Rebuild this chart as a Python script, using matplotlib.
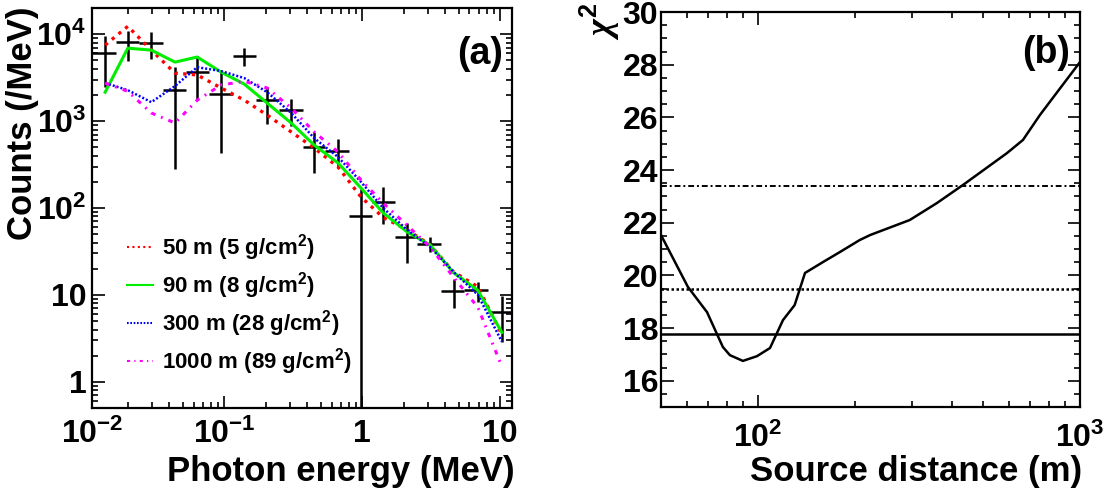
import matplotlib
matplotlib.use("Agg")
import matplotlib.pyplot as plt
import numpy as np
from matplotlib.ticker import FixedLocator, NullFormatter, FixedFormatter

plt.rcParams['font.family'] = ['Liberation Sans', 'DejaVu Sans']
plt.rcParams['font.weight'] = 'bold'
plt.rcParams['mathtext.fontset'] = 'custom'
plt.rcParams['mathtext.rm'] = 'Liberation Sans:bold'
plt.rcParams['mathtext.bf'] = 'Liberation Sans:bold'
plt.rcParams['mathtext.it'] = 'Liberation Serif:italic'
plt.rcParams['mathtext.default'] = 'rm'

# (a) 测量谱: 能区中心, 能区边界, 计数及误差上下限
energy = [0.0137, 0.020, 0.0296, 0.044, 0.0637, 0.095, 0.14, 0.205, 0.306, 0.449,
          0.67, 0.98, 1.42, 2.12, 3.11, 4.6, 6.9, 10.3]
edges = [0.011, 0.0163, 0.024, 0.036, 0.053, 0.078, 0.115, 0.17, 0.25, 0.37,
         0.54, 0.80, 1.18, 1.72, 2.5, 3.7, 5.5, 8.2, 12.0]
counts = [6000, 8100, 7900, 2270, 3660, 2040, 5580, 1740, 1340, 500,
          452, 81, 117, 46, 38.5, 11.1, 11.3, 6.4]
counts_hi = [9500, 11000, 10500, 4170, 5580, 3660, 6900, 2450, 1800, 750,
             620, 165, 174, 67, 46, 15.3, 14.2, 9.8]
counts_lo = [2460, 4900, 5200, 282, 1740, 430, 4300, 930, 870, 253,
             290, 0, 65, 23, 31, 7.1, 8.3, 2.9]

# 模拟谱 (不同距离)
sim_50 = [7500, 12300, 6550, 3560, 3400, 2400, 1740, 1170, 750, 490,
          295, 134, 78, 56, 37.6, 18.4, 12.4, 3.5]
sim_90 = [2150, 6900, 6550, 4770, 5460, 3660, 2660, 1610, 950, 530,
          329, 170, 88, 53, 37.6, 18, 11.3, 3.7]
sim_300 = [2740, 2270, 1650, 2530, 4170, 3760, 3120, 2150, 1240, 636,
           385, 200, 100, 56, 35.6, 18.4, 10, 2.9]
sim_1000 = [2740, 2200, 1240, 950, 1740, 2600, 2870, 2400, 1410, 750,
            440, 210, 114, 63, 35.6, 16, 7.2, 1.5]
labels = ['50 m (5 g/cm$^2$)', '90 m (8 g/cm$^2$)',
          '300 m (28 g/cm$^2$)', '1000 m (89 g/cm$^2$)']

# (b) chi2 随源距离变化
dist = [50, 60.6, 69.5, 77.8, 81.8, 89.8, 99.3, 109, 119.6, 130, 140, 159, 180,
        207, 223, 296, 359, 433, 593, 665, 751, 867, 1000]
chi2 = [21.53, 19.56, 18.6, 17.28, 16.97, 16.75, 16.93, 17.24, 18.3, 18.87, 20.09,
        20.5, 20.89, 21.34, 21.53, 22.1, 22.74, 23.43, 24.64, 25.14, 26.09, 27.1, 28.1]
chi2_levels = [17.77, 19.48, 23.39]

W, H = 1109, 493
fig = plt.figure(figsize=(W / 100, H / 100), dpi=100)

TICK_FS = 23
LABEL_FS = 25

def px(l, t, r, b):
    return [l / W, 1 - b / H, (r - l) / W, (b - t) / H]

def root_ticks(ax):
    ax.tick_params(which='both', direction='in', top=True, right=True, width=1.2)
    ax.tick_params(which='major', length=9, labelsize=TICK_FS)
    ax.tick_params(which='minor', length=4.5)
    for s in ax.spines.values():
        s.set_linewidth(1.6)

# ---- (a)
ax1 = fig.add_axes(px(92, 8, 512, 408))
ax1.set_xscale('log')
ax1.set_yscale('log')
e = np.array(energy)
c = np.array(counts)
xerr = [e - np.array(edges[:-1]), np.array(edges[1:]) - e]
yerr = [c - np.array(counts_lo), np.array(counts_hi) - c]
ax1.errorbar(e, c, xerr=xerr, yerr=yerr, fmt='none', ecolor='black', elinewidth=1.8, capsize=0)
ax1.plot(energy, sim_50, color='#ff0000', lw=2.4, ls=(0, (1, 1.6)), label=labels[0])
ax1.plot(energy, sim_90, color='#00ee00', lw=2.2, ls='-', label=labels[1])
ax1.plot(energy, sim_300, color='#0000ff', lw=1.8, ls=(0, (0.8, 0.8)), label=labels[2])
ax1.plot(energy, sim_1000, color='#ff00ff', lw=2.2, ls=(0, (1.5, 2, 0.6, 2)), label=labels[3])
ax1.set_xlim(0.011, 12.2)
ax1.set_ylim(0.5, 2e4)
ax1.xaxis.set_major_locator(FixedLocator([0.1, 1, 10]))
ax1.xaxis.set_major_formatter(FixedFormatter(['$10^{-1}$', '1', '10']))
ax1.xaxis.set_minor_locator(FixedLocator([k * 10.0 ** p for p in range(-2, 2) for k in range(2, 10)]))
ax1.xaxis.set_minor_formatter(NullFormatter())
ax1.yaxis.set_major_locator(FixedLocator([1, 10, 100, 1000, 10000]))
ax1.yaxis.set_major_formatter(FixedFormatter(['1', '10', '$10^2$', '$10^3$', '$10^4$']))
ax1.yaxis.set_minor_locator(FixedLocator([k * 10.0 ** p for p in range(-1, 5) for k in range(2, 10)]))
ax1.yaxis.set_minor_formatter(NullFormatter())
root_ticks(ax1)
ax1.tick_params(axis='x', pad=8)
ax1.tick_params(axis='y', pad=4)
ax1.annotate('$10^{-2}$', xy=(0.011, 0), xycoords=('data', 'axes fraction'),
             xytext=(0, -8), textcoords='offset points', ha='center', va='top',
             fontsize=TICK_FS, fontweight='bold')
leg = ax1.legend(loc='upper left', bbox_to_anchor=(0.035, 0.49), frameon=False,
                 fontsize=16, handlelength=1.2, handletextpad=0.4, labelspacing=0.32)
for h in leg.get_lines():
    h.set_linewidth(1.5)
ax1.text(0.925, 0.885, '(a)', transform=ax1.transAxes, ha='center', va='center',
         fontsize=27, fontweight='bold')
fig.text(23 / W, 1 - 6 / H, 'Counts (/MeV)', rotation=90, ha='center', va='top',
         fontsize=LABEL_FS, fontweight='bold')
fig.text(515 / W, 1 - 471 / H, 'Photon energy (MeV)', ha='right', va='center',
         fontsize=LABEL_FS, fontweight='bold')

# ---- (b)
ax2 = fig.add_axes(px(661, 12, 1080, 407))
ax2.set_xscale('log')
ax2.plot(dist, chi2, color='black', lw=1.8)
ax2.axhline(chi2_levels[0], color='black', lw=1.8, ls='-')
ax2.axhline(chi2_levels[1], color='black', lw=1.8, ls=(0, (1, 1)))
ax2.axhline(chi2_levels[2], color='black', lw=1.4, ls=(0, (3, 1.5, 1, 1.5)))
ax2.set_xlim(50, 1000)
ax2.set_ylim(15, 30)
ax2.xaxis.set_major_locator(FixedLocator([100, 1000]))
ax2.xaxis.set_major_formatter(FixedFormatter(['$10^2$', '$10^3$']))
ax2.xaxis.set_minor_locator(FixedLocator([50, 60, 70, 80, 90] + list(range(200, 1000, 100))))
ax2.xaxis.set_minor_formatter(NullFormatter())
ax2.yaxis.set_major_locator(FixedLocator(list(range(16, 31, 2))))
ax2.yaxis.set_minor_locator(FixedLocator(list(np.arange(15, 30.01, 0.5))))
ax2.yaxis.set_minor_formatter(NullFormatter())
root_ticks(ax2)
ax2.tick_params(axis='x', pad=11)
ax2.tick_params(axis='y', pad=2)
ax2.text(0.92, 0.895, '(b)', transform=ax2.transAxes, ha='center', va='center',
         fontsize=27, fontweight='bold')
fig.text(600 / W, 1 - 3 / H, r'$\mathit{\chi}^{2}$', rotation=90, ha='center', va='top',
         fontsize=26)
fig.text(1082 / W, 1 - 471 / H, 'Source distance (m)', ha='right', va='center',
         fontsize=LABEL_FS, fontweight='bold')

fig.savefig('out.png', dpi=100)
